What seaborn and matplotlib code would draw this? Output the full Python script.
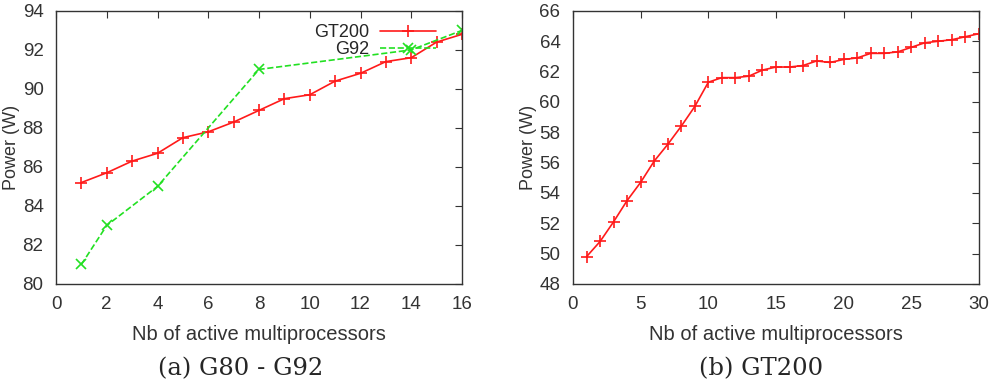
import seaborn as sns
import matplotlib.pyplot as plt

# left panel: G80 - G92
gt200_sm = [1, 2, 3, 4, 5, 6, 7, 8, 9, 10, 11, 12, 13, 14, 15, 16]
gt200_power = [85.2, 85.7, 86.3, 86.7, 87.5, 87.8, 88.3, 88.9,
               89.5, 89.7, 90.4, 90.8, 91.4, 91.6, 92.4, 92.8]
g92_sm = [1, 2, 4, 8, 14, 16]
g92_power = [81.0, 83.0, 85.0, 91.0, 92.0, 93.0]

# right panel: GT200 with up to 30 multiprocessors
gt200b_sm = list(range(1, 31))
gt200b_power = [49.8, 50.8, 52.1, 53.5, 54.7, 56.1, 57.2, 58.4, 59.7, 61.3,
                61.6, 61.6, 61.7, 62.1, 62.3, 62.3, 62.4, 62.7, 62.6, 62.8,
                62.9, 63.2, 63.2, 63.3, 63.6, 63.9, 64.0, 64.1, 64.3, 64.5]

captions = ["(a) G80 - G92", "(b) GT200"]

sns.set_style("white")
plt.rcParams['font.family'] = ['Liberation Sans', 'DejaVu Sans']

RED = '#ff1a1a'
GREEN = '#22e022'

fig = plt.figure(figsize=(10, 3.89), dpi=100)
ax1 = fig.add_axes([0.056, 0.27, 0.406, 0.702])
ax2 = fig.add_axes([0.573, 0.27, 0.406, 0.702])

sns.lineplot(x=gt200_sm, y=gt200_power, ax=ax1, color=RED, marker='+',
             markersize=8, markeredgewidth=1.2, markeredgecolor=RED,
             linewidth=1.2, label='GT200')
sns.lineplot(x=g92_sm, y=g92_power, ax=ax1, color=GREEN, marker='x',
             markersize=7, markeredgewidth=1.2, markeredgecolor=GREEN,
             linewidth=1.2, linestyle='--', label='G92')
ax1.set_xlim(0, 16)
ax1.set_ylim(80, 94)
ax1.set_xticks(range(0, 17, 2))
ax1.set_yticks(range(80, 95, 2))

sns.lineplot(x=gt200b_sm, y=gt200b_power, ax=ax2, color=RED, marker='+',
             markersize=8, markeredgewidth=1.2, markeredgecolor=RED,
             linewidth=1.2)
ax2.set_xlim(0, 30)
ax2.set_ylim(48, 66)
ax2.set_xticks(range(0, 31, 5))
ax2.set_yticks(range(48, 67, 2))

leg = ax1.legend(loc='upper right', bbox_to_anchor=(0.97, 1.0), frameon=False,
                 markerfirst=False, handlelength=3.1, fontsize=13,
                 labelspacing=0.0, borderpad=0.25, handletextpad=0.6)

for ax in [ax1, ax2]:
    ax.tick_params(direction='in', length=5, top=True, right=True,
                   labelsize=13.5, pad=9, color='#333333', labelcolor='#333333')
    for s in ax.spines.values():
        s.set_color('#333333')
        s.set_linewidth(1.0)
    ax.set_xlabel("Nb of active multiprocessors", fontsize=14.5, labelpad=8,
                  color='#333333')
    ax.set_ylabel("Power (W)", fontsize=13, color='#333333')
    ax.yaxis.set_label_coords(-0.088, 0.5)

# sub-figure captions
fig.text(0.241, 0.052, captions[0], ha='center', va='center', fontsize=17.5,
         family=['DejaVu Serif'])
fig.text(0.761, 0.052, captions[1], ha='center', va='center', fontsize=17.5,
         family=['DejaVu Serif'])

fig.savefig("out.png", dpi=100)
